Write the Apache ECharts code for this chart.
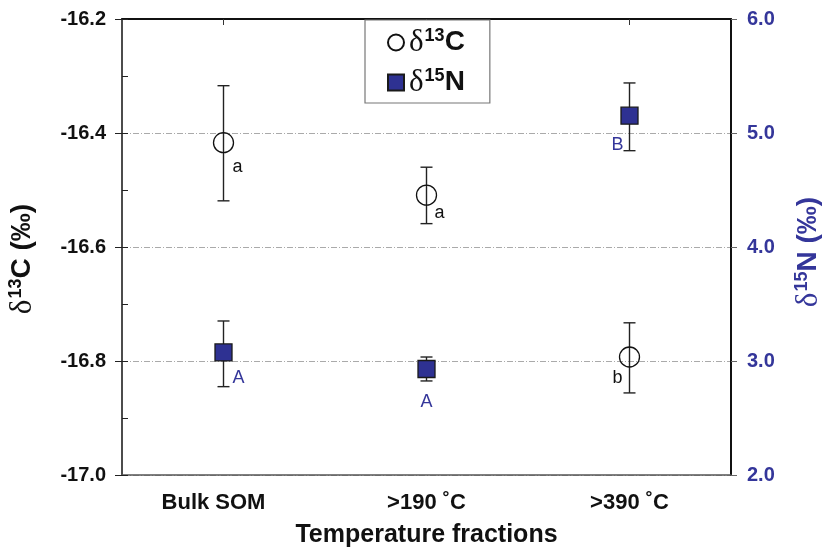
<!DOCTYPE html>
<html>
<head>
<meta charset="utf-8">
<script src="https://cdn.jsdelivr.net/npm/echarts@6/dist/echarts.min.js"></script>
<style>
  html, body { margin: 0; padding: 0; background: #fff; }
  #chart { width: 822px; height: 551px; }
</style>
</head>
<body>
<div id="chart"></div>
<script>
// temperature fractions on the x axis
const categories = ["Bulk SOM", ">190 ˚C", ">390 ˚C"];

// delta 13C (left axis), mean and error bar ends
const c13Mean = [-16.417, -16.509, -16.793];
const c13Low = [-16.519, -16.559, -16.856];
const c13High = [-16.317, -16.46, -16.733];
const c13Letters = ["a", "a", "b"];

// delta 15N (right axis), mean and error bar ends
const n15Mean = [3.075, 2.93, 5.152];
const n15Low = [2.775, 2.825, 4.845];
const n15High = [3.351, 3.035, 5.439];
const n15Letters = ["A", "A", "B"];

// axis ranges
const c13Min = -17.0;
const c13Max = -16.2;
const c13Step = 0.2;
const n15Min = 2.0;
const n15Max = 6.0;
const n15Step = 1.0;

// where the letters sit next to each marker (px offset from marker centre)
const c13LetterOffsets = [[14, 24], [13, 18], [-12, 21]];
const n15LetterOffsets = [[15, 26], [0, 33], [-12, 29]];

const blue = "#34369a";
const fontFamily = "'Liberation Sans', Arial, sans-serif";
const serif = "'Liberation Serif', serif";

const chart = echarts.init(document.getElementById("chart"));

function errorBar(params, api) {
  const x = api.value(0);
  const top = api.coord([x, api.value(2)]);
  const bottom = api.coord([x, api.value(1)]);
  const cap = 6;
  const style = { stroke: "#222", lineWidth: 1.4 };
  return {
    type: "group",
    children: [
      { type: "line", shape: { x1: top[0], y1: top[1], x2: bottom[0], y2: bottom[1] }, style },
      { type: "line", shape: { x1: top[0] - cap, y1: top[1], x2: top[0] + cap, y2: top[1] }, style },
      { type: "line", shape: { x1: bottom[0] - cap, y1: bottom[1], x2: bottom[0] + cap, y2: bottom[1] }, style }
    ]
  };
}

function letterData(values, letters, offsets, color) {
  return values.map((v, i) => ({
    value: [i, v],
    label: {
      show: true,
      position: "inside",
      offset: offsets[i],
      formatter: letters[i],
      fontSize: 18,
      fontFamily,
      color
    }
  }));
}

function titleRich(color) {
  return {
    d: { fontSize: 31, fontFamily: serif, color },
    s: { fontSize: 18, fontWeight: "bold", fontFamily, color, padding: [0, 0, 13, 1] },
    b: { fontSize: 28, fontWeight: "bold", fontFamily, color }
  };
}

chart.setOption({
  animation: false,
  grid: { left: 122, right: 91, top: 19, bottom: 76, outerBoundsMode: "none" },
  legend: {
    data: ["d13C", "d15N"],
    orient: "vertical",
    left: 365,
    top: 20,
    padding: [7, 25, 5, 22],
    itemGap: 9,
    itemWidth: 16,
    itemHeight: 16,
    backgroundColor: "#fff",
    borderColor: "#777",
    borderWidth: 1.2,
    borderRadius: 0,
    formatter: (name) => (name === "d13C" ? "{d|δ}{s|13}{b|C}" : "{d|δ}{s|15}{b|N}"),
    textStyle: {
      color: "#111",
      rich: {
        d: { fontSize: 31, lineHeight: 31, fontFamily: serif, color: "#111" },
        s: { fontSize: 18, lineHeight: 31, fontWeight: "bold", fontFamily, color: "#111", padding: [0, 0, 13, 1] },
        b: { fontSize: 28, lineHeight: 31, fontWeight: "bold", fontFamily, color: "#111" }
      }
    }
  },
  xAxis: [
    {
      type: "category",
      data: categories,
      position: "bottom",
      boundaryGap: true,
      axisLine: { lineStyle: { color: "#555", width: 1.5 } },
      axisTick: { show: false },
      axisLabel: {
        color: "#111",
        fontSize: 22,
        fontWeight: "bold",
        fontFamily,
        margin: 17,
        formatter: (v, i) => (i === 0 ? "{l|" + v + "}" : v),
        rich: { l: { fontSize: 22, fontWeight: "bold", fontFamily, color: "#111", padding: [0, 20, 0, 0] } }
      },
      name: "Temperature fractions",
      nameLocation: "middle",
      nameGap: 48,
      nameTextStyle: { color: "#111", fontSize: 25, fontWeight: "bold", fontFamily }
    },
    {
      type: "category",
      data: categories,
      position: "top",
      boundaryGap: true,
      axisLine: { lineStyle: { color: "#111", width: 2 } },
      axisTick: { show: true, inside: true, alignWithLabel: true, length: 6, lineStyle: { color: "#333" } },
      axisLabel: { show: false }
    }
  ],
  yAxis: [
    {
      type: "value",
      position: "left",
      min: c13Min,
      max: c13Max,
      interval: c13Step,
      axisLine: { show: true, lineStyle: { color: "#111", width: 1.5 } },
      axisTick: { show: true, length: 7, lineStyle: { color: "#222" } },
      axisLabel: {
        color: "#111",
        fontSize: 20,
        fontWeight: "bold",
        fontFamily,
        margin: 16,
        formatter: (v) => v.toFixed(1)
      },
      splitLine: { show: true, lineStyle: { color: "#aaa", width: 1, type: [6, 2, 1, 2] } },
      name: "{d|δ}{s|13}{b|C (‰)}",
      nameLocation: "middle",
      nameRotate: 90,
      nameGap: 84,
      nameTextStyle: { color: "#111", padding: [0, 24, 0, 0], rich: titleRich("#111") }
    },
    {
      type: "value",
      position: "right",
      min: n15Min,
      max: n15Max,
      interval: n15Step,
      axisLine: { show: true, lineStyle: { color: "#111", width: 2 } },
      axisTick: { show: true, length: 6, lineStyle: { color: "#666" } },
      axisLabel: {
        color: blue,
        fontSize: 20,
        fontWeight: "bold",
        fontFamily,
        margin: 16,
        formatter: (v) => v.toFixed(1)
      },
      splitLine: { show: false },
      name: "{d|δ}{s|15}{b|N (‰)}",
      nameLocation: "middle",
      nameRotate: 90,
      nameGap: 62,
      nameTextStyle: { color: blue, padding: [0, 10, 0, 0], rich: titleRich(blue) }
    },
    {
      // inside ticks on the left axis (major + minor)
      type: "value",
      position: "left",
      min: c13Min,
      max: c13Max,
      interval: c13Step / 2,
      axisLine: { show: false },
      axisTick: { show: true, inside: true, length: 6, lineStyle: { color: "#222" } },
      axisLabel: { show: false },
      splitLine: { show: false }
    }
  ],
  series: [
    {
      type: "custom",
      name: "c13err",
      xAxisIndex: 0,
      yAxisIndex: 0,
      renderItem: errorBar,
      data: categories.map((_, i) => [i, c13Low[i], c13High[i]]),
      z: 2
    },
    {
      type: "custom",
      name: "n15err",
      xAxisIndex: 0,
      yAxisIndex: 1,
      renderItem: errorBar,
      data: categories.map((_, i) => [i, n15Low[i], n15High[i]]),
      z: 2
    },
    {
      type: "scatter",
      name: "d13C",
      xAxisIndex: 0,
      yAxisIndex: 0,
      symbol: "circle",
      symbolSize: 20,
      itemStyle: { color: "rgba(255,255,255,0)", borderColor: "#111", borderWidth: 1.3, opacity: 1 },
      data: letterData(c13Mean, c13Letters, c13LetterOffsets, "#111"),
      z: 3
    },
    {
      type: "scatter",
      name: "d15N",
      xAxisIndex: 0,
      yAxisIndex: 1,
      symbol: "rect",
      symbolSize: 17,
      itemStyle: { color: "#2e3192", borderColor: "#1a1a1a", borderWidth: 1.3, opacity: 1 },
      data: letterData(n15Mean, n15Letters, n15LetterOffsets, blue),
      z: 3
    }
  ]
});
</script>
</body>
</html>
